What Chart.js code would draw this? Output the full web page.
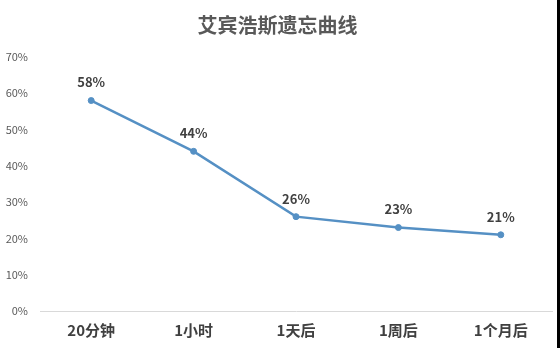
<!DOCTYPE html>
<html lang="zh">
<head>
<meta charset="utf-8">
<title>艾宾浩斯遗忘曲线</title>
<script src="https://cdn.jsdelivr.net/npm/chart.js@4"></script>
<style>
    body { margin: 0; background: #fff; }
    .wrap { width: 557px; height: 348px; border-right: 3px solid #000; }
</style>
</head>
<body>
<div class="wrap">
    <canvas id="curveChart" width="557" height="348"></canvas>
</div>
<script>
const intervals = ['20分钟', '1小时', '1天后', '1周后', '1个月后'];
const retention = [58, 44, 26, 23, 21];
const yTicks = [0, 10, 20, 30, 40, 50, 60, 70];

const fontFamily = '"Noto Sans CJK SC", "Noto Sans", sans-serif';

// escreve o valor em cima de cada ponto
const pointLabels = {
    id: 'pointLabels',
    afterDatasetsDraw(chart) {
        const ctx = chart.ctx;
        const meta = chart.getDatasetMeta(0);
        ctx.save();
        ctx.font = 'bold 13px ' + fontFamily;
        ctx.fillStyle = '#404040';
        ctx.textAlign = 'center';
        ctx.textBaseline = 'middle';
        meta.data.forEach((point, i) => {
            ctx.fillText(retention[i] + '%', point.x, point.y - 18);
        });
        ctx.restore();
    }
};

function createChart() {
    const ctx = document.getElementById('curveChart').getContext('2d');

    new Chart(ctx, {
        type: 'line',
        data: {
            labels: intervals,
            datasets: [{
                data: retention,
                borderColor: '#5590c4',
                backgroundColor: '#5590c4',
                borderWidth: 2.5,
                pointRadius: 3,
                pointBorderWidth: 1,
                tension: 0
            }]
        },
        options: {
            responsive: false,
            animation: false,
            layout: { padding: { right: 2 } },
            plugins: {
                legend: { display: false },
                tooltip: { enabled: false },
                title: {
                    display: true,
                    text: '艾宾浩斯遗忘曲线',
                    color: '#595959',
                    font: { family: fontFamily, size: 20, weight: 'bold' },
                    padding: { top: 13, bottom: 20 }
                }
            },
            scales: {
                x: {
                    offset: true,
                    grid: { display: false, drawTicks: false },
                    border: { display: true, color: '#d9d9d9', width: 1 },
                    ticks: {
                        color: '#404040',
                        padding: 10,
                        font: { family: fontFamily, size: 15, weight: 'bold' }
                    },
                    afterFit: scale => { scale.height = 37; }
                },
                y: {
                    min: yTicks[0],
                    max: yTicks[yTicks.length - 1],
                    afterBuildTicks: scale => {
                        scale.ticks = yTicks.map(v => ({ value: v }));
                    },
                    grid: { display: false, drawTicks: false },
                    border: { display: false },
                    ticks: {
                        color: '#595959',
                        padding: 12,
                        font: { family: fontFamily, size: 11 },
                        callback: value => value + '%'
                    },
                    afterFit: scale => { scale.width = 40; }
                }
            }
        },
        plugins: [pointLabels]
    });
}

document.addEventListener('DOMContentLoaded', () => {
    createChart();
});
</script>
</body>
</html>
